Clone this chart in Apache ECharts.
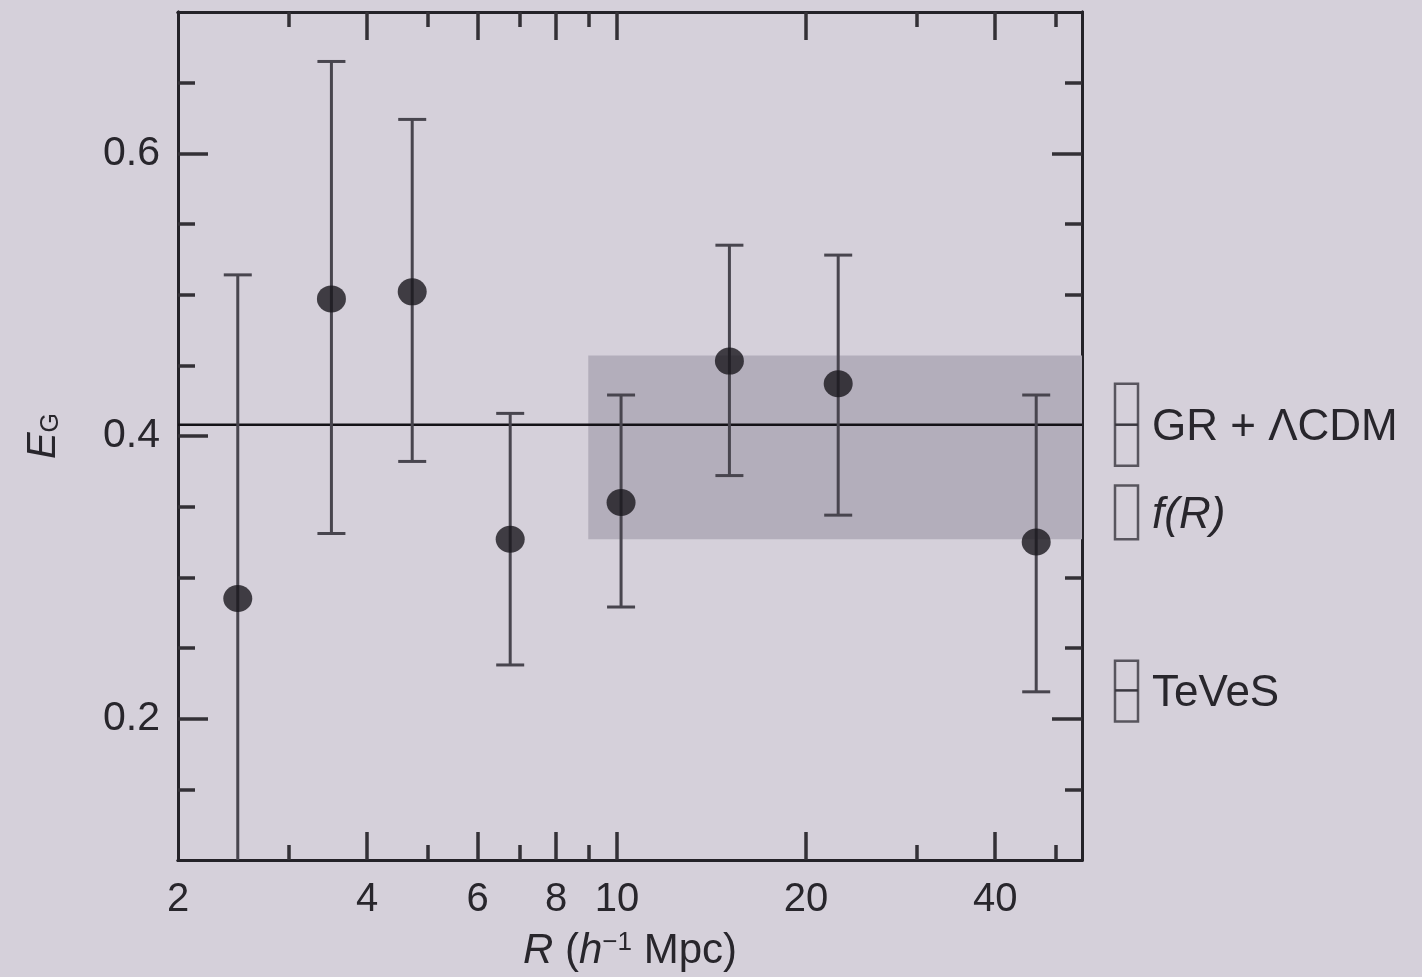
<!DOCTYPE html>
<html>
<head>
<meta charset="utf-8">
<title>E_G against R</title>
<script src="https://cdn.jsdelivr.net/npm/echarts@6.0.0/dist/echarts.min.js"></script>
<style>
  html, body { margin: 0; padding: 0; background: #d5d0da; }
  #chart { width: 1422px; height: 977px; }
</style>
</head>
<body>
<div id="chart"></div>
<script>
// measured E_G per bin of R (h^-1 Mpc)
var radius = [2.49, 3.51, 4.72, 6.76, 10.15, 15.1, 22.5, 46.5];
var egValue = [0.285, 0.497, 0.502, 0.327, 0.353, 0.453, 0.437, 0.325];
var egLow = [0.056, 0.331, 0.382, 0.238, 0.279, 0.372, 0.344, 0.219];
var egHigh = [0.514, 0.665, 0.624, 0.416, 0.429, 0.535, 0.528, 0.429];

// combined constraint on large scales
var bandR = [9, 55];
var bandEG = [0.327, 0.457];

// GR + LCDM prediction
var grValue = 0.408;

// predicted ranges shown at the right side
var theoryNames = ["GR + ΛCDM", "f(R)", "TeVeS"];
var theoryLow = [0.379, 0.327, 0.198];
var theoryHigh = [0.437, 0.365, 0.241];
var theoryMid = [0.408, null, 0.22];

var xTickLabels = [2, 4, 6, 8, 10, 20, 40];
var xMajorTicks = [4, 6, 8, 10, 20, 40];
var xMinorTicks = [3, 5, 7, 9, 30, 50];
var yTickLabels = [0.2, 0.4, 0.6];
var yMinorTicks = [0.15, 0.25, 0.3, 0.35, 0.45, 0.5, 0.55, 0.65];

var rMin = 2, rMax = 55;
var egMin = 0.1, egMax = 0.7;

var FONT = "Liberation Sans";
var INK = "#242228";
var TEXT = "#28262c";

function lg(v) {
  return Math.log10(v);
}

function xAxisDef(position, ticks, len, labels) {
  return {
    type: "value",
    position: position,
    min: lg(rMin),
    max: lg(rMax),
    axisLine: {show: true, onZero: false, lineStyle: {color: INK, width: 3}},
    axisTick: {show: true, inside: true, length: len, customValues: ticks.map(lg), lineStyle: {color: "#333036", width: 3.5}},
    axisLabel: labels ? {
      show: true,
      customValues: labels.map(lg),
      formatter: function (v) {
        return String(Math.round(Math.pow(10, v)));
      },
      margin: 20,
      fontSize: 40,
      fontFamily: FONT,
      color: TEXT,
    } : {show: false},
    splitLine: {show: false},
  };
}

function yAxisDef(position, ticks, len, labels) {
  return {
    type: "value",
    position: position,
    min: egMin,
    max: egMax,
    axisLine: {show: true, onZero: false, lineStyle: {color: INK, width: 3}},
    axisTick: {show: true, inside: true, length: len, customValues: ticks, lineStyle: {color: "#333036", width: 3.5}},
    axisLabel: labels ? {
      show: true,
      customValues: labels,
      formatter: function (v) {
        return v.toFixed(1);
      },
      margin: 18,
      fontSize: 41,
      fontFamily: FONT,
      color: TEXT,
    } : {show: false},
    splitLine: {show: false},
  };
}

var xBottom = xAxisDef("bottom", xMajorTicks, 28, xTickLabels);
xBottom.name = "{i|R} ({i|h}{sup|−1} Mpc)";
xBottom.nameLocation = "middle";
xBottom.nameGap = 70;
xBottom.nameTextStyle = {
  fontSize: 42, fontFamily: FONT, color: TEXT,
  rich: {
    i: {fontSize: 42, fontFamily: FONT, fontStyle: "italic", color: TEXT},
    sup: {fontSize: 26, fontFamily: FONT, color: TEXT, verticalAlign: "top", padding: [0, 0, 14, 0]},
  },
};

var yLeft = yAxisDef("left", yTickLabels, 30, yTickLabels);
yLeft.name = "{e|E}{g|G}";
yLeft.nameLocation = "middle";
yLeft.nameRotate = 90;
yLeft.nameGap = 114;
yLeft.nameTextStyle = {
  fontSize: 40, fontFamily: FONT, color: TEXT,
  rich: {
    e: {fontSize: 40, fontFamily: FONT, fontStyle: "italic", color: TEXT},
    g: {fontSize: 25, fontFamily: FONT, color: TEXT, verticalAlign: "bottom", padding: [14, 0, 0, 0]},
  },
};

var points = radius.map(function (r, i) {
  return [lg(r), egValue[i]];
});
var bars = radius.map(function (r, i) {
  return [lg(r), egLow[i], egHigh[i]];
});
var theories = theoryNames.map(function (n, i) {
  return {name: n, value: [lg(rMax), theoryLow[i], theoryHigh[i]]};
});

var myChart = echarts.init(document.getElementById("chart"));
myChart.setOption({
  backgroundColor: "#d5d0da",
  animation: false,
  grid: {left: 178, right: 340, top: 12, bottom: 115},
  xAxis: [
    xBottom,
    xAxisDef("bottom", xMinorTicks, 15, null),
    xAxisDef("top", xMajorTicks, 28, null),
    xAxisDef("top", xMinorTicks, 15, null),
  ],
  yAxis: [
    yLeft,
    yAxisDef("left", yMinorTicks, 17, null),
    yAxisDef("right", yTickLabels, 30, null),
    yAxisDef("right", yMinorTicks, 17, null),
  ],
  series: [
    {
      name: "GR",
      type: "line",
      data: [[lg(rMin), grValue], [lg(rMax), grValue]],
      symbol: "none",
      z: 3,
      lineStyle: {color: "#141217", width: 2.5},
      markArea: {
        silent: true,
        itemStyle: {color: "#b3aebb"},
        data: [[
          {xAxis: lg(bandR[0]), yAxis: bandEG[0]},
          {xAxis: lg(bandR[1]), yAxis: bandEG[1]},
        ]],
      },
    },
    {
      name: "errors",
      type: "custom",
      clip: true,
      z: 4,
      data: bars,
      encode: {x: 0, y: [1, 2]},
      renderItem: function (params, api) {
        var x = api.value(0);
        var lo = api.coord([x, api.value(1)]);
        var hi = api.coord([x, api.value(2)]);
        var half = 14;
        var style = {stroke: "#48454e", lineWidth: 3};
        return {
          type: "group",
          children: [
            {type: "line", shape: {x1: hi[0], y1: hi[1], x2: lo[0], y2: lo[1]}, style: style},
            {type: "line", shape: {x1: hi[0] - half, y1: hi[1], x2: hi[0] + half, y2: hi[1]}, style: style},
            {type: "line", shape: {x1: lo[0] - half, y1: lo[1], x2: lo[0] + half, y2: lo[1]}, style: style},
          ],
        };
      },
    },
    {
      name: "EG",
      type: "scatter",
      data: points,
      symbol: "circle",
      symbolSize: [29, 27],
      z: 5,
      itemStyle: {color: "#19171d"},
    },
    {
      name: "theories",
      type: "custom",
      z: 5,
      data: theories,
      encode: {x: 0, y: [1, 2]},
      renderItem: function (params, api) {
        var x = api.value(0);
        var lo = api.coord([x, api.value(1)]);
        var hi = api.coord([x, api.value(2)]);
        var left = lo[0] + 33;
        var w = 23;
        var children = [{
          type: "rect",
          shape: {x: left, y: hi[1], width: w, height: lo[1] - hi[1]},
          style: {fill: "none", stroke: "#58555e", lineWidth: 2.5},
        }];
        var mid = theoryMid[params.dataIndex];
        if (mid != null) {
          var m = api.coord([x, mid]);
          children.push({
            type: "line",
            shape: {x1: left, y1: m[1], x2: left + w, y2: m[1]},
            style: {stroke: "#3a3840", lineWidth: 2.5},
          });
        }
        children.push({
          type: "text",
          x: left + w + 14,
          y: (lo[1] + hi[1]) / 2 + 3,
          style: {
            text: theoryNames[params.dataIndex],
            fill: TEXT,
            fontSize: 44,
            fontFamily: FONT,
            fontStyle: params.dataIndex === 1 ? "italic" : "normal",
            verticalAlign: "middle",
            align: "left",
          },
        });
        return {type: "group", children: children};
      },
    },
  ],
});
</script>
</body>
</html>
